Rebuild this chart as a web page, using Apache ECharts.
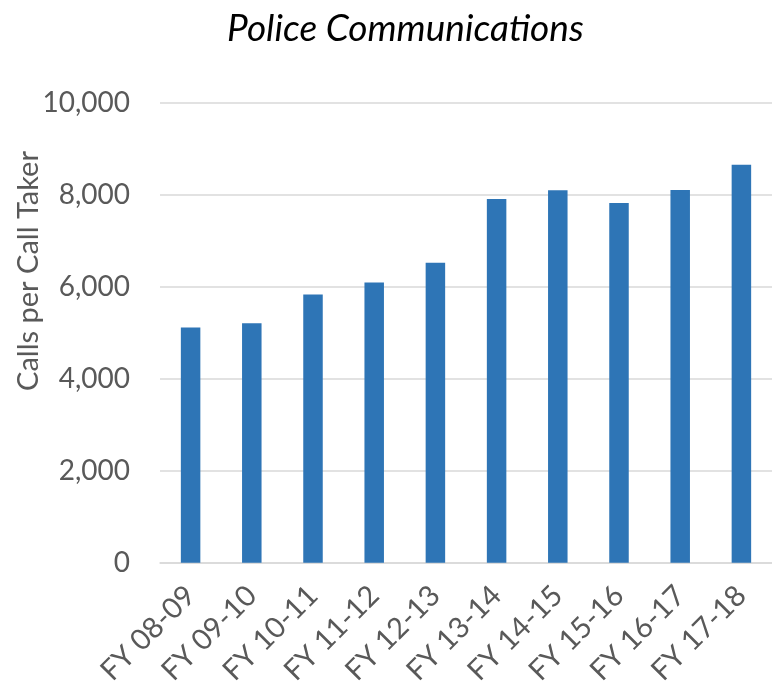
<!DOCTYPE html>
<html><head><meta charset="utf-8">
<script src="https://cdn.jsdelivr.net/npm/echarts@6/dist/echarts.min.js"></script>
<style>html,body{margin:0;padding:0;background:#fff}#c{width:772px;height:688px}</style>
</head><body><div id="c"></div>
<script>
const categories = ["FY 08-09","FY 09-10","FY 10-11","FY 11-12","FY 12-13","FY 13-14","FY 14-15","FY 15-16","FY 16-17","FY 17-18"];
const callsPerTaker = [5110,5205,5830,6090,6520,7905,8095,7815,8100,8650];
const yTicks = {min:0, max:10000, interval:2000};
const titleText = "Police Communications";
const yAxisTitle = "Calls per Call Taker";

const chart = echarts.init(document.getElementById('c'));
chart.setOption({
  animation:false,
  title:{text:titleText,left:222,top:6,
    textStyle:{fontFamily:'Lato',fontStyle:'italic',fontWeight:'normal',fontSize:37,color:'#000'}},
  grid:{left:160,right:-10,top:102.5,bottom:123,containLabel:false},
  xAxis:{type:'category',data:categories,
    axisLine:{lineStyle:{color:'#d9d9d9',width:1.5}},
    axisTick:{show:false},
    axisLabel:{rotate:45,interval:0,margin:28,color:'#595959',fontFamily:'Lato',fontSize:29}},
  yAxis:{type:'value',min:yTicks.min,max:yTicks.max,interval:yTicks.interval,
    axisLine:{show:false},axisTick:{show:false},
    splitLine:{lineStyle:{color:'#d9d9d9',width:1.5}},
    axisLabel:{margin:30,color:'#595959',fontFamily:'Lato',fontSize:28,
      formatter:v=>v.toLocaleString('en-US')}},
  graphic:[{type:'text',x:29,y:271,rotation:Math.PI/2,
    style:{text:yAxisTitle,fill:'#595959',font:'29px Lato',align:'center',verticalAlign:'middle'}}],
  series:[{type:'bar',data:callsPerTaker,barWidth:19.5,
    itemStyle:{color:'#2E75B6'}}]
});
</script></body></html>
